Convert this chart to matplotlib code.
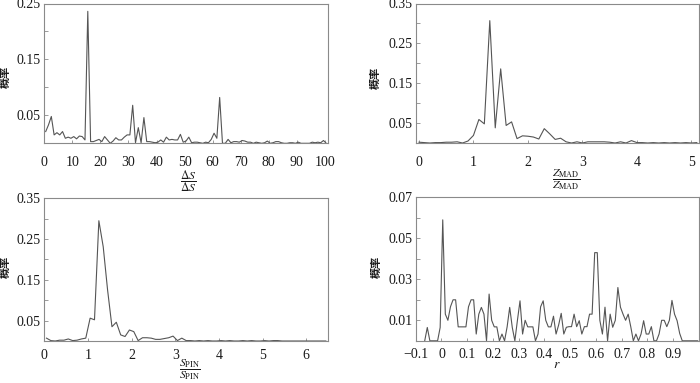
import numpy as np
import matplotlib
matplotlib.use("Agg")
import matplotlib.pyplot as plt
from matplotlib.ticker import FixedLocator, NullFormatter

plt.rcParams['font.family'] = ['Liberation Serif', 'Noto Sans CJK SC', 'DejaVu Sans']
plt.rcParams['mathtext.fontset'] = 'stix'

# ---------------- data ----------------
# Panel 1: dS / mean(dS), bins of width 1 (centres k+0.5)
ds_x = np.arange(0, 101) + 0.5
ds_p = [0.021, 0.033, 0.048, 0.015, 0.019, 0.015, 0.021, 0.009, 0.011, 0.009,
        0.012, 0.008, 0.013, 0.012, 0.006, 0.236, 0.003, 0.003, 0.005, 0.007,
        0.003, 0.012, 0.006, 0.000, 0.004, 0.010, 0.006, 0.006, 0.011, 0.015,
        0.015, 0.068, 0.001, 0.028, 0.001, 0.046, 0.003, 0.003, 0.002, 0.001,
        0.002, 0.006, 0.002, 0.011, 0.006, 0.007, 0.006, 0.006, 0.016, 0.002,
        0.004, 0.011, 0.001, 0.002, 0.002, 0.001, 0.000, 0.002, 0.001, 0.007,
        0.018, 0.009, 0.082, 0.000, 0.000, 0.007, 0.001, 0.003, 0.003, 0.002,
        0.005, 0.004, 0.002, 0.002, 0.000, 0.002, 0.001, 0.000, 0.001, 0.004,
        0.000, 0.001, 0.003, 0.003, 0.001, 0.000, 0.000, 0.001, 0.001, 0.000,
        0.002, 0.000, 0.000, 0.000, 0.000, 0.002, 0.001, 0.002, 0.001, 0.005,
        0.000]

# Panel 2: Z_MAD / mean(Z_MAD), bins of width 0.1
zm_x = np.round(np.arange(0, 52) * 0.1, 2)
zm_p = [0.002, 0.001, 0.000, 0.001, 0.001, 0.002, 0.002, 0.003, 0.000, 0.005,
        0.019, 0.059, 0.048, 0.307, 0.038, 0.186, 0.044, 0.053, 0.011, 0.018,
        0.017, 0.015, 0.010, 0.036, 0.023, 0.009, 0.012, 0.003, 0.000, 0.003,
        0.000, 0.003, 0.003, 0.003, 0.003, 0.002, 0.000, 0.003, 0.000, 0.006,
        0.001, 0.001, 0.000, 0.001, 0.000, 0.001, 0.000, 0.001, 0.000, 0.001,
        0.000, 0.001]

# Panel 3: S_PIN / mean(S_PIN), bins of width 0.1 (centres)
sp_x = np.round(np.arange(0, 65) * 0.1 + 0.05, 3)
sp_p = [0.007, 0.001, 0.000, 0.002, 0.002, 0.005, 0.001, 0.002, 0.005, 0.007,
        0.056, 0.052, 0.295, 0.231, 0.125, 0.035, 0.046, 0.015, 0.011, 0.027,
        0.023, 0.001, 0.008, 0.008, 0.007, 0.004, 0.004, 0.006, 0.008, 0.012,
        0.001, 0.007, 0.001, 0.001, 0.000, 0.001, 0.000, 0.001, 0.000, 0.000,
        0.001, 0.000, 0.001, 0.000, 0.000, 0.001, 0.000, 0.001, 0.000, 0.000,
        0.001, 0.000, 0.001, 0.001, 0.000, 0.000, 0.000, 0.000, 0.000, 0.000,
        0.000, 0.000, 0.000, 0.000, 0.000]

# Panel 4: correlation coefficient r, bins of width 0.01 (centres)
r_x = np.round(np.arange(0, 107) * 0.01 - 0.065, 3)
r_p = [0.0, 0.0065, 0.0, 0.0, 0.0, 0.0, 0.0065, 0.059, 0.013, 0.010,
       0.0166, 0.020, 0.020, 0.0068, 0.0068, 0.0068, 0.0068, 0.0166, 0.020, 0.020,
       0.0033, 0.013, 0.0163, 0.013, 0.0, 0.0228, 0.010, 0.0068, 0.0068, 0.0,
       0.0033, 0.0, 0.0068, 0.0163, 0.0065, 0.0, 0.010, 0.0195, 0.0033, 0.010,
       0.0068, 0.0068, 0.0068, 0.0, 0.0033, 0.0166, 0.0195, 0.010, 0.0068, 0.0068,
       0.012, 0.0033, 0.0077, 0.0134, 0.0033, 0.0066, 0.0069, 0.0069, 0.013, 0.0069,
       0.0098, 0.0033, 0.0069, 0.0069, 0.013, 0.013, 0.043, 0.043, 0.010, 0.0033,
       0.0164, 0.0, 0.013, 0.0066, 0.010, 0.026, 0.0164, 0.013, 0.010, 0.013,
       0.0069, 0.0, 0.0033, 0.0, 0.0033, 0.0098, 0.0033, 0.0033, 0.0069, 0.0,
       0.0, 0.0033, 0.010, 0.010, 0.0069, 0.010, 0.0197, 0.013, 0.0098, 0.0036,
       0.0, 0.0, 0.0, 0.0, 0.0, 0.0, 0.0]

# ---------------- figure ----------------
W, H = 700, 383
fig = plt.figure(figsize=(7.0, 3.83), dpi=100)

def px_axes(l, t, r, b):
    return fig.add_axes([l / W, 1 - b / H, (r - l) / W, (b - t) / H])

LINE = '#555555'
SPINE = '#8a8a8a'

def style(ax, xticks, xlabels, ymaj, yminor, xlim, ylim, xpad):
    ax.set_xlim(*xlim)
    ax.set_ylim(*ylim)
    ax.set_xticks(xticks)
    ax.set_xticklabels(xlabels)
    ax.set_yticks(ymaj)
    ax.set_yticklabels([f'{v:.2f}' for v in ymaj])
    ax.yaxis.set_minor_locator(FixedLocator(yminor))
    ax.yaxis.set_minor_formatter(NullFormatter())
    for s in ax.spines.values():
        s.set_color(SPINE)
        s.set_linewidth(0.8)
    ax.tick_params(axis='both', which='both', direction='in', color=SPINE,
                   width=0.6, labelsize=10, labelcolor='#1a1a1a')
    ax.tick_params(axis='x', length=2.5, pad=xpad)
    ax.tick_params(axis='y', which='major', length=3, pad=2.5)
    ax.tick_params(axis='y', which='minor', length=3)

ax1 = px_axes(44.3, 3.5, 327.7, 143.3)
ax1.plot(ds_x, ds_p, color=LINE, lw=0.8)
style(ax1, list(range(0, 101, 10)), [str(v) for v in range(0, 101, 10)],
      [0.05, 0.15, 0.25], [0.10, 0.20], (0, 101), (0, 0.25), 9)

ax2 = px_axes(415.7, 3.5, 699, 143.0)
ax2.plot(zm_x, zm_p, color=LINE, lw=0.8)
style(ax2, [0, 1, 2, 3, 4, 5], ['0', '1', '2', '3', '4', '5'],
      [0.05, 0.15, 0.25, 0.35], [0.10, 0.20, 0.30], (-0.06, 5.14), (0, 0.35), 9)

ax3 = px_axes(44.3, 198.3, 328, 341)
ax3.plot(sp_x, sp_p, color=LINE, lw=0.8)
style(ax3, [0, 1, 2, 3, 4, 5, 6], ['0', '1', '2', '3', '4', '5', '6'],
      [0.05, 0.15, 0.25, 0.35], [0.10, 0.20, 0.30], (0, 6.5), (0, 0.35), 5.5)

ax4 = px_axes(415.7, 197.3, 699, 340.8)
ax4.plot(r_x, r_p, color=LINE, lw=0.8)
r_ticks = [-0.1, 0, 0.1, 0.2, 0.3, 0.4, 0.5, 0.6, 0.7, 0.8, 0.9]
r_labels = ['\u22120.1', '0', '0.1', '0.2', '0.3', '0.4', '0.5', '0.6', '0.7', '0.8', '0.9']
style(ax4, r_ticks, r_labels,
      [0.01, 0.03, 0.05, 0.07], [0.02, 0.04, 0.06], (-0.1, 1.0), (0, 0.07), 5.5)

# y labels
for (x, y) in [(5, 77), (375, 78), (5, 267), (376, 267)]:
    fig.text(x / W, 1 - y / H, '概率', rotation=90, ha='center', va='center',
             fontsize=8, weight='bold', family=['Noto Sans CJK SC', 'DejaVu Sans'],
             color='#1a1a1a')

# x labels (fractions)
fig.text(188 / W, 1 - 168 / H, r'$\dfrac{\Delta S}{\Delta S}$', ha='center', va='top',
         fontsize=8.5, color='#1a1a1a')
fig.text(566 / W, 1 - 167 / H, r'$\dfrac{Z_{\mathrm{MAD}}}{Z_{\mathrm{MAD}}}$', ha='center',
         va='top', fontsize=8.5, color='#1a1a1a')
fig.text(190 / W, 1 - 382 / H, r'$\dfrac{S_{\mathrm{PIN}}}{S_{\mathrm{PIN}}}$', ha='center',
         va='bottom', fontsize=8.5, color='#1a1a1a')
fig.text(557 / W, 1 - 364 / H, r'$r$', ha='center', va='center', fontsize=10, color='#1a1a1a')

fig.savefig('out.png', dpi=100)
